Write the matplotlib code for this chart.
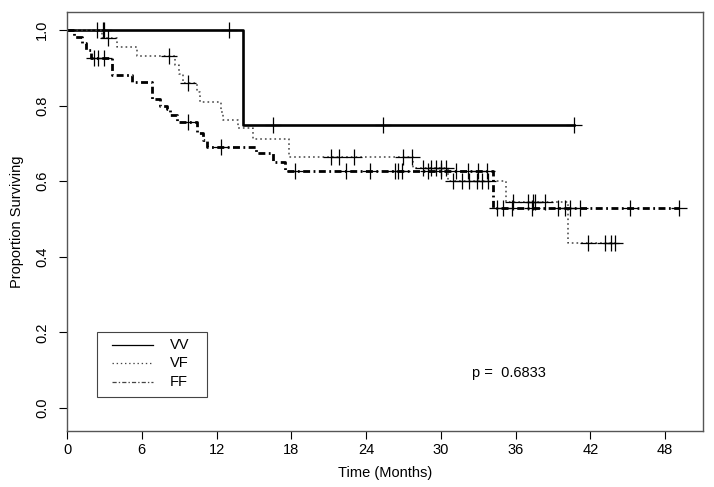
import numpy as np
import matplotlib
matplotlib.use("Agg")
import matplotlib.pyplot as plt
from matplotlib.patches import Rectangle

plt.rcParams['font.family'] = ['Liberation Sans', 'DejaVu Sans']
plt.rcParams['lines.scale_dashes'] = False

# Kaplan-Meier step data (time in months, survival)
vv_t = [0, 14.1]
vv_s = [1.0, 0.75]
vv_cens = [2.4, 2.9, 3.0, 13.0, 16.5, 25.4, 40.7]

vf_t = [0, 2.8, 4.0, 5.6, 8.7, 9.0, 9.3, 10.4, 10.7, 12.4, 12.5, 13.7, 14.9,
        17.8, 27.8, 30.6, 35.2, 40.2]
vf_s = [1.0, 0.978, 0.956, 0.931, 0.907, 0.885, 0.861, 0.837, 0.811, 0.784,
        0.762, 0.74, 0.711, 0.665, 0.634, 0.60, 0.546, 0.437]
vf_cens = [3.3, 8.2, 9.7, 21.2, 21.8, 23.0, 27.0, 27.7, 28.6, 29.2, 29.6,
           30.0, 30.4, 31.0, 31.7, 32.3, 32.9, 33.3, 33.8, 35.8, 37.0, 37.4,
           37.6, 38.4, 41.8, 43.2, 43.7, 44.0]

ff_t = [0, 0.6, 1.2, 1.5, 1.9, 3.6, 5.2, 6.8, 7.5, 8.0, 8.3, 8.8, 10.4, 10.9,
        11.2, 15.2, 16.5, 17.5, 34.2]
ff_s = [1.0, 0.982, 0.965, 0.947, 0.925, 0.881, 0.864, 0.819, 0.80, 0.79,
        0.775, 0.757, 0.727, 0.71, 0.692, 0.674, 0.652, 0.626, 0.528]
ff_cens = [2.2, 2.5, 3.0, 9.7, 12.4, 18.3, 22.4, 24.3, 26.3, 26.6, 26.9, 29.0,
           30.0, 31.2, 32.2, 33.0, 33.7, 34.5, 35.0, 35.7, 37.3, 39.4, 40.0,
           40.4, 41.2, 45.2, 49.1]

groups = ["VV", "VF", "FF"]
p_value = "0.6833"
xticks = [0, 6, 12, 18, 24, 30, 36, 42, 48]
yticks = [0.0, 0.2, 0.4, 0.6, 0.8, 1.0]

fig = plt.figure(figsize=(7.14, 4.87), dpi=100)
ax = fig.add_axes([67 / 714, 1 - 431 / 487, 636 / 714, 419 / 487])

styles = [
    dict(color="black", lw=1.9, ls="-"),
    dict(color="#444444", lw=1.1, ls=(0, (1.2, 2.2))),
    dict(color="black", lw=2.0, ls=(0, (5, 2.5, 1.3, 2.5))),
]
data = [(vv_t, vv_s, vv_cens), (vf_t, vf_s, vf_cens), (ff_t, ff_s, ff_cens)]

for (t, s, c), st in zip(data, styles):
    t = np.array(t, dtype=float)
    s = np.array(s, dtype=float)
    c = np.array(c, dtype=float)
    tend = max(t.max(), c.max())
    tt = np.append(t, tend)
    ss = np.append(s, s[-1])
    ax.step(tt, ss, where="post", **st)
    idx = np.searchsorted(t, c, side="right") - 1
    ax.plot(c, s[idx], ls="none", marker="+", ms=11, mew=0.9, color="black")

ax.set_xlim(0, 51.05)
ax.set_ylim(-0.061, 1.048)
ax.set_xticks(xticks)
ax.set_yticks(yticks)
ax.set_yticklabels([f"{v:.1f}" for v in yticks], rotation=90, va="center")
ax.tick_params(direction="out", length=6, width=0.8, labelsize=10.5)
ax.tick_params(axis="x", pad=3)
ax.tick_params(axis="y", pad=7)
for sp in ax.spines.values():
    sp.set_color("#555555")
    sp.set_linewidth(1.0)
ax.set_xlabel("Time (Months)", fontsize=10.5, labelpad=6)
ax.set_ylabel("Proportion Surviving", fontsize=10.5, labelpad=8)

# legend box drawn by hand (R style: wide padding left/right)
ax.add_patch(Rectangle((0.0472, 0.0811), 0.1729, 0.1552, transform=ax.transAxes,
                       facecolor="white", edgecolor="#444444", lw=0.8, zorder=5))
leg_styles = [dict(color="black", lw=0.9, ls="-"),
              dict(color="#444444", lw=0.9, ls=(0, (1, 2))),
              dict(color="#444444", lw=0.9, ls=(0, (3, 1.5, 1, 1.5)))]
for name, st, yy in zip(groups, leg_styles, [0.2053, 0.1623, 0.1169]):
    ax.plot([0.0708, 0.1352], [yy, yy], transform=ax.transAxes, zorder=6, **st)
    ax.text(0.1619, yy, name, transform=ax.transAxes, fontsize=10.5,
            ha="left", va="center", zorder=6)

ax.text(35.5, 0.093, "p =  " + p_value, fontsize=10.5, ha="center", va="center")

fig.savefig("out.png", dpi=100)
